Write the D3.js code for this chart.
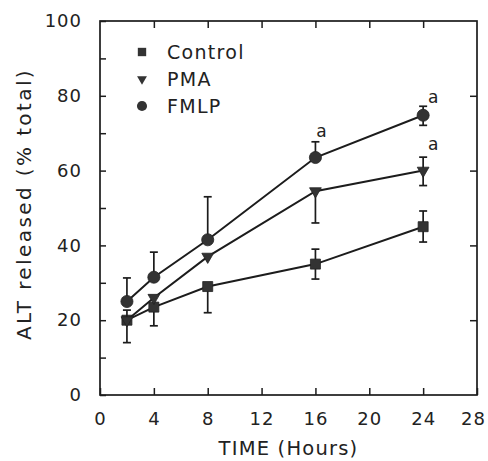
<!DOCTYPE html>
<html>
<head>
<meta charset="utf-8">
<script src="https://cdn.jsdelivr.net/npm/d3@7"></script>
<style>
    body { margin: 0; background: #fff; }
    text { font-family: "DejaVu Sans", sans-serif; fill: #222; }
</style>
</head>
<body>
<div id="chart"></div>
<script>
'use strict';

// data
const hours = [2, 4, 8, 16, 24];
const seriesNames = ['Control', 'PMA', 'FMLP'];
const controlValues = [20, 23.5, 29, 35, 45];
const pmaValues = [20, 26, 37, 54.5, 60];
const fmlpValues = [25, 31.5, 41.5, 63.5, 74.8];
// error bars as drawn (null = arm hidden in the figure)
const controlErrLow = [6, 5, 7, 4, 4.1];
const controlErrHigh = [null, null, null, 4, 4.2];
const pmaErrLow = [null, null, null, 8.5, 4];
const pmaErrHigh = [2.7, null, null, null, 3.6];
const fmlpErrLow = [null, null, null, null, 2.7];
const fmlpErrHigh = [6.3, 6.7, 11.5, 4.2, 2.4];
// significance marks: [hour, value at the letter's baseline]
const sigMarks = [[16, 69], [24, 78], [24, 65.5]];
const xTicks = [0, 4, 8, 12, 16, 20, 24, 28];

const svgWidth = 488, svgHeight = 461;
const margin = [21, 66, 100, 11]; // top, bottom, left, right
const chartWidth = svgWidth - margin[2] - margin[3];
const chartHeight = svgHeight - margin[0] - margin[1];
const ink = '#1c1c1c';

const svg = d3.select('#chart').append('svg')
    .attr('width', svgWidth)
    .attr('height', svgHeight);

const chart = svg.append('g')
    .attr('transform', `translate(${margin[2]},${margin[0]})`);

const scaleX = d3.scaleLinear([0, 28], [0, chartWidth]);
const scaleY = d3.scaleLinear([0, 100], [chartHeight, 0]);

// frame
chart.append('rect')
    .attr('width', chartWidth)
    .attr('height', chartHeight)
    .attr('fill', 'none')
    .attr('stroke', ink)
    .attr('stroke-width', 1.7);

// axes (ticks pointing inward)
const axisLeft = d3.axisLeft(scaleY)
    .tickValues(d3.range(0, 101, 10))
    .tickFormat(d => d % 20 === 0 ? d : '')
    .tickSize(-6).tickPadding(18);
const axisBottom = d3.axisBottom(scaleX)
    .tickValues(xTicks)
    .tickSize(-7).tickPadding(17);
const axisTop = d3.axisTop(scaleX)
    .tickValues(xTicks.slice(1, -1))
    .tickSize(-7).tickFormat('');
const axisRight = d3.axisRight(scaleY)
    .tickValues([20, 40, 60, 80])
    .tickSize(-7).tickFormat('');

const styleAxis = g => {
    g.select('.domain').remove();
    g.selectAll('line').attr('stroke', ink).attr('stroke-width', 1.5);
    g.selectAll('text')
        .style('font-family', '"DejaVu Sans", sans-serif')
        .style('font-size', '18px')
        .style('letter-spacing', '1px')
        .attr('fill', '#222');
};

chart.append('g').call(axisLeft).call(styleAxis);
const gx = chart.append('g').attr('transform', `translate(0,${chartHeight})`).call(axisBottom).call(styleAxis);
// last label sits at the page edge; nudge it in so it stays whole
gx.selectAll('text').filter(d => d === 28).attr('dx', -4);
chart.append('g').call(axisTop).call(styleAxis);
chart.append('g').attr('transform', `translate(${chartWidth},0)`).call(axisRight).call(styleAxis);

// axis titles
svg.append('text')
    .attr('text-anchor', 'middle')
    .attr('x', margin[2] + chartWidth / 2)
    .attr('y', 455)
    .style('font-size', '19.5px')
    .style('letter-spacing', '1.2px')
    .text('TIME (Hours)');

svg.append('text')
    .attr('text-anchor', 'middle')
    .attr('transform', 'rotate(-90)')
    .attr('x', -(margin[0] + chartHeight / 2) + 4)
    .attr('y', 31)
    .style('font-size', '20px')
    .style('letter-spacing', '2.4px')
    .text('ALT released (% total)');

// series
const series = [
    { name: seriesNames[0], values: controlValues, lo: controlErrLow, hi: controlErrHigh, symbol: d3.symbolSquare, size: 100, rot: 0 },
    { name: seriesNames[1], values: pmaValues, lo: pmaErrLow, hi: pmaErrHigh, symbol: d3.symbolTriangle, size: 60, rot: 180 },
    { name: seriesNames[2], values: fmlpValues, lo: fmlpErrLow, hi: fmlpErrHigh, symbol: d3.symbolCircle, size: 115, rot: 0 }
];

const line = d3.line()
    .x((d, i) => scaleX(hours[i]))
    .y(d => scaleY(d));

const capHalf = 4;

series.forEach(s => {
    const g = chart.append('g');

    // error bars
    s.values.forEach((v, i) => {
        const x = scaleX(hours[i]);
        [s.lo[i] == null ? null : v - s.lo[i], s.hi[i] == null ? null : v + s.hi[i]].forEach(end => {
            if (end == null) return;
            g.append('line')
                .attr('x1', x).attr('x2', x)
                .attr('y1', scaleY(v)).attr('y2', scaleY(end))
                .attr('stroke', ink).attr('stroke-width', 1.7);
            g.append('line')
                .attr('x1', x - capHalf).attr('x2', x + capHalf)
                .attr('y1', scaleY(end)).attr('y2', scaleY(end))
                .attr('stroke', ink).attr('stroke-width', 1.7);
        });
    });

    g.append('path')
        .datum(s.values)
        .attr('d', line)
        .attr('fill', 'none')
        .attr('stroke', ink)
        .attr('stroke-width', 2);

    g.selectAll('path.marker')
        .data(s.values)
        .join('path')
        .attr('class', 'marker')
        .attr('d', d3.symbol(s.symbol, s.size))
        .attr('transform', (d, i) => `translate(${scaleX(hours[i])},${scaleY(d)}) rotate(${s.rot})`)
        .attr('fill', '#333')
        .attr('stroke', '#222')
        .attr('stroke-width', 0.8);
});

// significance letters
chart.selectAll('text.sig')
    .data(sigMarks)
    .join('text')
    .attr('class', 'sig')
    .attr('x', d => scaleX(d[0]) + (d[0] === 16 ? 6 : 10))
    .attr('y', d => scaleY(d[1]))
    .attr('text-anchor', 'middle')
    .style('font-size', '17px')
    .text('a');

// legend
const legend = chart.append('g').attr('transform', 'translate(42,31)');
series.forEach((s, i) => {
    const row = legend.append('g').attr('transform', `translate(0,${i * 27})`);
    row.append('path')
        .attr('d', d3.symbol(s.symbol, s.size * 0.7))
        .attr('transform', `rotate(${s.rot})`)
        .attr('fill', '#333');
    row.append('text')
        .attr('x', 25)
        .attr('dy', '0.36em')
        .style('font-size', '19px')
        .style('letter-spacing', '1.3px')
        .text(s.name);
});
</script>
</body>
</html>
